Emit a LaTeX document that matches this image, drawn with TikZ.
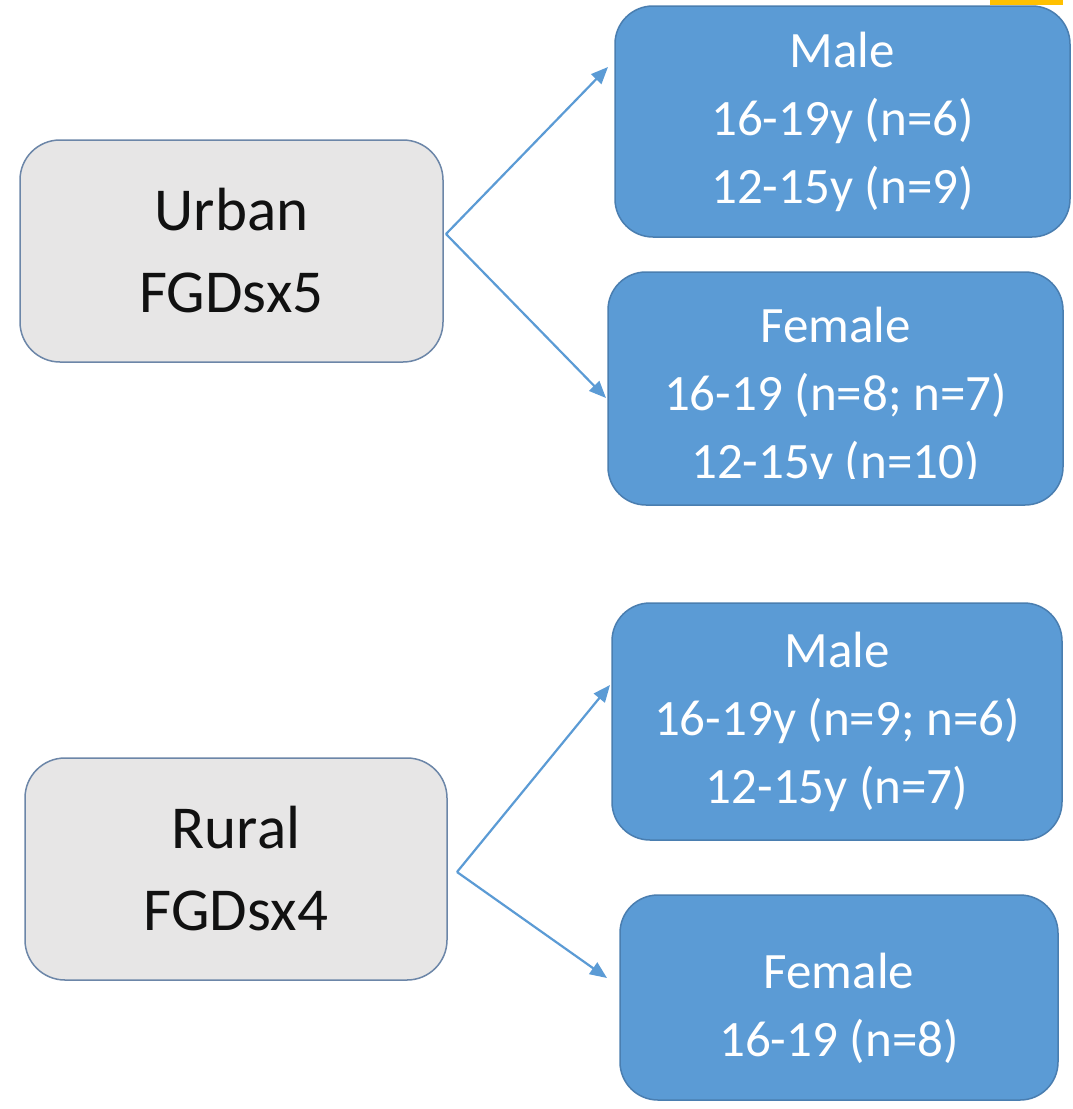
\documentclass[tikz,border=0pt]{standalone}
\usepackage{fontspec}
\setmainfont{Carlito}
\usetikzlibrary{arrows.meta}
\definecolor{boxblue}{HTML}{5B9BD5}
\definecolor{boxedge}{HTML}{4A7EB0}
\definecolor{graybox}{HTML}{E7E6E6}
\definecolor{grayedge}{HTML}{6C86A8}
\definecolor{arrowblue}{HTML}{5B9BD5}
\definecolor{tabyellow}{HTML}{FFC000}
\definecolor{darktext}{HTML}{111111}
\begin{document}
\begin{tikzpicture}[x=1pt,y=-1pt,
  graynode/.style={draw=grayedge, line width=1.5pt, fill=graybox, rounded corners=40pt,
    inner sep=0pt, align=center, font=\fontsize{61}{82}\selectfont, text=darktext},
  bluenode/.style={draw=boxedge, line width=1.5pt, fill=boxblue, rounded corners=38pt,
    inner sep=0pt, align=center, font=\fontsize{51}{68}\selectfont, text=white},
  bluetext/.style={inner sep=0pt, align=center, font=\fontsize{51}{68}\selectfont, text=white},
  link/.style={draw=arrowblue, line width=2.2pt, -{Triangle[length=17pt,width=14pt]}}]

\useasboundingbox (0,0) rectangle (1073,1109);
\fill[white] (0,0) rectangle (1073,1109);
\fill[tabyellow] (990,0) rectangle (1063,5);

% left boxes
\node[graynode, minimum width=423pt, minimum height=222pt] (urban) at (231.5,251) {Urban\\FGDsx5};
\node[graynode, minimum width=422pt, minimum height=222pt] (rural) at (236,869) {Rural\\FGDsx4};

% right boxes (urban)
\node[bluenode, minimum width=455pt, minimum height=231pt] (umale) at (842.5,121.5)
  {Male\\16-19y (n=6)\\12-15y (n=9)};
\node[bluenode, minimum width=455pt, minimum height=233pt] (ufemale) at (835.5,388.5) {};
\begin{scope}
  \clip (600,260) rectangle (1073,478);
  \node[bluetext] (ufemaletext) at (835.5,397) {Female\\16-19 (n=8; n=7)\\12-15y (n=10)};
\end{scope}

% right boxes (rural)
\node[bluenode, minimum width=450pt, minimum height=237pt] (rmale) at (837,721.5)
  {Male\\16-19y (n=9; n=6)\\12-15y (n=7)};
\node[bluenode, minimum width=438pt, minimum height=205pt] (rfemale) at (839,997.5) {};
\node[bluetext] (rfemaletext) at (839,1008) {Female\\16-19 (n=8)};

% connectors
\coordinate (uo) at (446,234);
\coordinate (ut1) at (608,67);
\coordinate (ut2) at (606,398);
\coordinate (ro) at (457,872);
\coordinate (rt1) at (610,685);
\coordinate (rt2) at (607,978);
\draw[link] (uo) -- (ut1);
\draw[link] (uo) -- (ut2);
\draw[link] (ro) -- (rt1);
\draw[link] (ro) -- (rt2);
\end{tikzpicture}
\end{document}
